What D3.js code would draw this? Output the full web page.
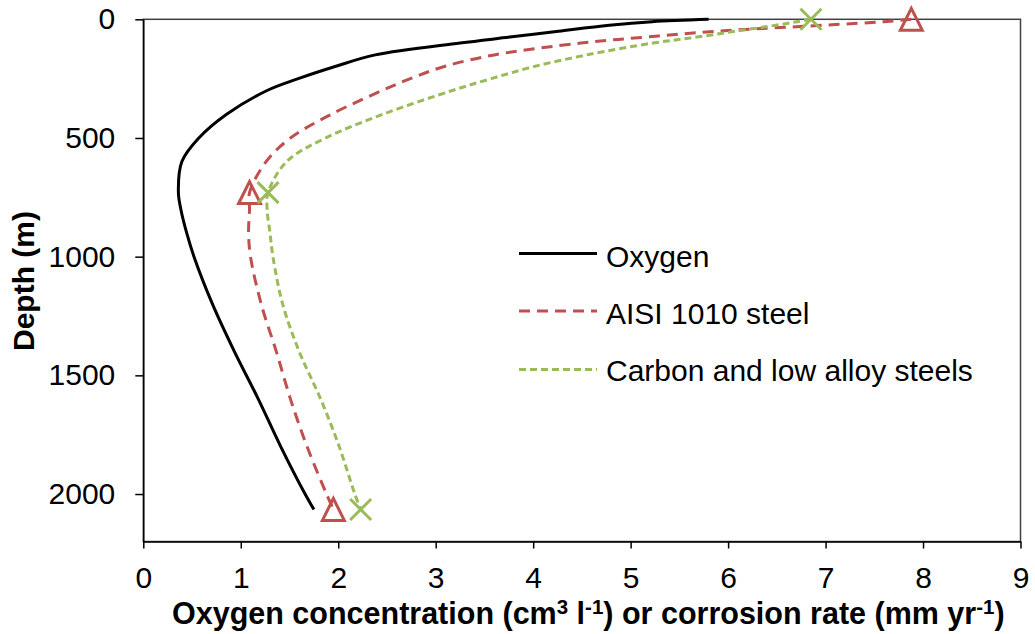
<!DOCTYPE html>
<html>
<head>
<meta charset="utf-8">
<script src="https://cdn.jsdelivr.net/npm/d3@7"></script>
<style>
  html, body { margin: 0; padding: 0; background: #fff; }
  svg { display: block; font-family: "Liberation Sans", Arial, sans-serif; }
</style>
</head>
<body>
<svg id="chart" width="1035" height="634"></svg>
<script>
// Depth profile (m) shared by all three series
const depths = [0, 10, 25, 50, 75, 100, 150, 200, 250, 300, 400, 500, 600, 730, 800, 900, 1000, 1200, 1400, 1600, 1800, 2000, 2065];

// Dissolved oxygen concentration (cm3 l-1)
const oxygen = [5.80, 5.22, 4.78, 4.26, 3.76, 3.25, 2.38, 1.96, 1.59, 1.27, 0.855, 0.57, 0.395, 0.36, 0.385, 0.445, 0.52, 0.71, 0.935, 1.18, 1.41, 1.66, 1.75];

// Corrosion rate of AISI 1010 steel (mm yr-1)
const aisi1010 = [7.88, 7.60, 6.98, 5.89, 5.15, 4.49, 3.60, 3.08, 2.74, 2.45, 1.93, 1.51, 1.26, 1.09, 1.09, 1.08, 1.10, 1.21, 1.365, 1.51, 1.68, 1.88, 1.95];

// Corrosion rate of carbon and low alloy steels (mm yr-1)
const carbonSteel = [6.85, 6.71, 6.49, 6.08, 5.68, 5.23, 4.55, 4.00, 3.57, 3.17, 2.46, 1.87, 1.47, 1.28, 1.27, 1.30, 1.33, 1.43, 1.60, 1.82, 2.01, 2.17, 2.23];

// Depths at which the corrosion-rate series carry point markers
const markerDepths = [0, 730, 2065];

// Axis ticks
const xTicks = [0, 1, 2, 3, 4, 5, 6, 7, 8, 9];
const yTicks = [0, 500, 1000, 1500, 2000];

const seriesNames = ["Oxygen", "AISI 1010 steel", "Carbon and low alloy steels"];

const svg = d3.select("#chart");

const plotLeft = 143.3, plotRight = 1020.5, plotTop = 19.3, plotBottom = 541.5;

const x = d3.scaleLinear().domain([0, 9]).range([plotLeft, plotRight]);
const y = d3.scaleLinear().domain([0, 2200]).range([plotTop, plotBottom]);

const RED = "#C0504D", GREEN = "#9BBB59";

// Plot area frame
svg.append("rect")
  .attr("x", plotLeft).attr("y", plotTop)
  .attr("width", plotRight - plotLeft).attr("height", plotBottom - plotTop)
  .attr("fill", "none").attr("stroke", "#404040").attr("stroke-width", 1.5);

// Axes
const yAxis = svg.append("g")
  .attr("transform", `translate(${plotLeft},0)`)
  .call(d3.axisLeft(y).tickValues(yTicks).tickFormat(d3.format("d"))
    .tickSizeInner(8).tickSizeOuter(0).tickPadding(20));

const xAxis = svg.append("g")
  .attr("transform", `translate(0,${plotBottom})`)
  .call(d3.axisBottom(x).tickValues(xTicks).tickFormat(d3.format("d"))
    .tickSizeInner(7).tickSizeOuter(0).tickPadding(18));

[yAxis, xAxis].forEach(g => {
  g.selectAll("path.domain").attr("stroke", "#000").attr("stroke-width", 1.5);
  g.selectAll(".tick line").attr("stroke", "#000").attr("stroke-width", 1.5);
  g.selectAll("text").attr("font-size", 30).attr("fill", "#000")
    .attr("font-family", "'Liberation Sans', Arial, sans-serif");
});

// Curves
const line = d3.line()
  .x(d => x(d[0]))
  .y(d => y(d[1]))
  .curve(d3.curveCatmullRom.alpha(0.5));

const pts = vals => vals.map((v, i) => [v, depths[i]]);

const series = [
  { name: seriesNames[0], values: oxygen, color: "#000", dash: null, width: 3 },
  { name: seriesNames[1], values: aisi1010, color: RED, dash: "11,7", width: 3 },
  { name: seriesNames[2], values: carbonSteel, color: GREEN, dash: "7,4", width: 3 }
];

series.forEach(s => {
  svg.append("path")
    .datum(pts(s.values))
    .attr("d", line)
    .attr("fill", "none")
    .attr("stroke", s.color)
    .attr("stroke-width", s.width)
    .attr("stroke-dasharray", s.dash);
});

// Markers: open triangles for AISI 1010, crosses for carbon steels
const markerPoints = vals => markerDepths.map(d => [vals[depths.indexOf(d)], d]);

const tri = 11;
svg.append("g").selectAll("path")
  .data(markerPoints(aisi1010))
  .join("path")
  .attr("transform", d => `translate(${x(d[0])},${y(d[1])})`)
  .attr("d", `M0,${-tri}L${tri},${tri}L${-tri},${tri}Z`)
  .attr("fill", "none")
  .attr("stroke", RED)
  .attr("stroke-width", 3)
  .attr("stroke-linejoin", "miter");

const cr = 10.5;
svg.append("g").selectAll("path")
  .data(markerPoints(carbonSteel))
  .join("path")
  .attr("transform", d => `translate(${x(d[0])},${y(d[1])})`)
  .attr("d", `M${-cr},${-cr}L${cr},${cr}M${-cr},${cr}L${cr},${-cr}`)
  .attr("fill", "none")
  .attr("stroke", GREEN)
  .attr("stroke-width", 3);

// Legend
const legendRows = [
  { lineY: 253.5, textY: 267 },
  { lineY: 311, textY: 324 },
  { lineY: 369.5, textY: 381 }
];
series.forEach((s, i) => {
  const r = legendRows[i];
  svg.append("line")
    .attr("x1", 519).attr("x2", 597)
    .attr("y1", r.lineY).attr("y2", r.lineY)
    .attr("stroke", s.color)
    .attr("stroke-width", s.width)
    .attr("stroke-dasharray", s.dash);
  svg.append("text")
    .attr("x", 606).attr("y", r.textY)
    .attr("font-size", 30)
    .attr("fill", "#000")
    .text(s.name);
});

// Axis titles
const xt = svg.append("text")
  .attr("x", 172).attr("y", 624)
  .attr("font-size", 30.5).attr("font-weight", "bold").attr("fill", "#000");
xt.append("tspan").text("Oxygen concentration (cm");
xt.append("tspan").attr("font-size", 20.5).attr("dy", -10).text("3");
xt.append("tspan").attr("dy", 10).text(" l");
xt.append("tspan").attr("font-size", 20.5).attr("dy", -10).text("-1");
xt.append("tspan").attr("dy", 10).text(") or corrosion rate (mm yr");
xt.append("tspan").attr("font-size", 20.5).attr("dy", -10).text("-1");
xt.append("tspan").attr("dy", 10).text(")");

svg.append("text")
  .attr("transform", "translate(33.5,281) rotate(-90)")
  .attr("text-anchor", "middle")
  .attr("font-size", 30).attr("font-weight", "bold").attr("fill", "#000")
  .text("Depth (m)");
</script>
</body>
</html>
